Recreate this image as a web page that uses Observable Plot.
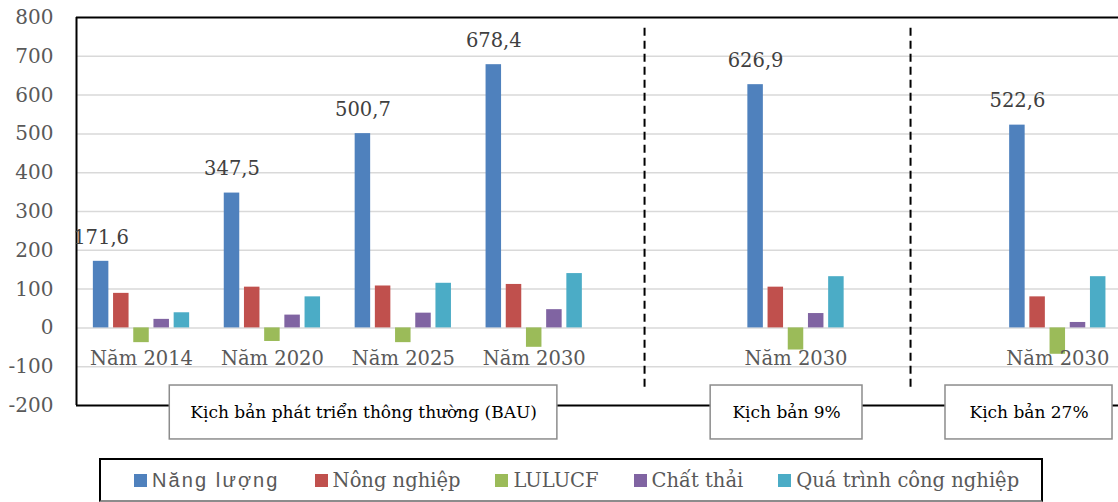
<!DOCTYPE html>
<html>
<head>
<meta charset="utf-8">
<script src="https://cdn.jsdelivr.net/npm/d3@7"></script>
<script src="https://cdn.jsdelivr.net/npm/@observablehq/plot@0.6"></script>
<style>
  body { margin: 0; background: #fff; }
  #chart svg { display: block; }
  .legend {
    box-sizing: border-box;
    margin: 8px 0 0 99px;
    width: 944px;
    height: 44px;
    border: 2px solid #000;
    border-bottom-color: #8c8c8c;
    display: flex;
    align-items: center;
    padding-left: 33px;
    gap: 35px;
    font-family: "DejaVu Serif", serif;
    font-size: 19.5px;
    color: #595959;
  }
  .legend .item { display: flex; align-items: center; white-space: nowrap; }
  .legend .sw { width: 13px; height: 13px; margin-right: 5px; }
  .legend .sans { font-family: "Liberation Sans", Arial, sans-serif; font-size: 20px; letter-spacing: 2.1px; }
</style>
</head>
<body>
<div id="chart"></div>
<script>
// Emissions by sector (MtCO2e) per year and scenario
const groups = ["Năm 2014", "Năm 2020", "Năm 2025", "Năm 2030", "Năm 2030", "Năm 2030"];
const series = ["Năng lượng", "Nông nghiệp", "LULUCF", "Chất thải", "Quá trình công nghiệp"];
const nangLuong = [171.6, 347.5, 500.7, 678.4, 626.9, 522.6];
const nongNghiep = [89, 105, 108, 112, 105, 80];
const lulucf = [-38, -35, -38, -50, -57, -68];
const chatThai = [22, 33, 38, 47, 37, 14];
const quaTrinhCongNghiep = [39, 80, 115, 140, 132, 132];
const yTicks = [800, 700, 600, 500, 400, 300, 200, 100, 0, -100, -200];
const scenarioLabels = ["Kịch bản phát triển thông thường (BAU)", "Kịch bản 9%", "Kịch bản 27%"];
const colors = ["#4F81BD", "#C0504D", "#9BBB59", "#8064A2", "#4BACC6"];

// Layout along the category axis: one slot per category, slots 4 and 6 left empty
const groupSlot = [0, 1, 2, 3, 5, 7];
const barStep = 0.1543;
const barWidth = 0.1184;
const dividerSlot = [3.843, 5.875];
const scenarioBox = [[0.216, 3.177], [4.348, 5.508], [6.142, 7.418]];
const xDomain = [-0.4966, 7.4637];

const seriesValues = [nangLuong, nongNghiep, lulucf, chatThai, quaTrinhCongNghiep];
const rows = groups.flatMap((g, gi) =>
  seriesValues.map((vals, si) => ({gi, si, series: series[si], value: vals[gi]}))
);
const barX = (d) => groupSlot[d.gi] + (d.si - 2) * barStep;
const fmt = (v) => d3.format(".1f")(v).replace(".", ",");

const boxes = scenarioLabels.map((label, i) => ({label, x1: scenarioBox[i][0], x2: scenarioBox[i][1]}));

const chart = Plot.plot({
  width: 1118,
  height: 450,
  marginTop: 17,
  marginBottom: 45,
  marginLeft: 76,
  marginRight: 0,
  style: {fontFamily: "DejaVu Serif, serif", background: "#fff"},
  x: {type: "linear", domain: xDomain, axis: null},
  y: {domain: [-200, 800], axis: null},
  color: {domain: series, range: colors},
  marks: [
    // horizontal gridlines
    Plot.ruleY(yTicks.filter((t) => t > -200 && t < 800), {stroke: "#d9d9d9", strokeWidth: 1.5}),
    // plot frame: top, bottom, left
    Plot.ruleY([800, -200], {stroke: "#000", strokeWidth: 2}),
    Plot.ruleX([xDomain[0]], {y1: -200, y2: 800, stroke: "#000", strokeWidth: 2}),
    // scenario dividers
    Plot.ruleX(dividerSlot, {y1: 772, y2: -153, stroke: "#000", strokeWidth: 2, strokeDasharray: "8,5"}),
    // bars
    Plot.rect(rows, {
      x1: (d) => barX(d) - barWidth / 2,
      x2: (d) => barX(d) + barWidth / 2,
      y1: 0,
      y2: "value",
      fill: "series"
    }),
    // energy values above the blue bars
    Plot.text(groups, {
      x: (d, i) => groupSlot[i] - 2 * barStep,
      y: (d, i) => nangLuong[i],
      text: (d, i) => fmt(nangLuong[i]),
      dy: -24,
      fontSize: 19.5,
      fill: "#404040"
    }),
    // category labels under the zero line
    Plot.text(groups, {
      x: (d, i) => groupSlot[i],
      y: 0,
      text: (d) => d,
      dy: 31,
      fontSize: 19.5,
      fill: "#595959"
    }),
    // y tick labels
    Plot.text(yTicks, {
      x: xDomain[0],
      y: (d) => d,
      text: (d) => String(d),
      textAnchor: "end",
      dx: -23,
      fontSize: 20,
      fill: "#595959"
    }),
    // scenario boxes
    Plot.rect(boxes, {x1: "x1", x2: "x2", y1: -148.5, y2: -287.5, fill: "#fff", stroke: "#8c8c8c", strokeWidth: 1.5}),
    Plot.text(boxes, {
      x: (d) => (d.x1 + d.x2) / 2,
      y: -218,
      text: "label",
      fontSize: 17,
      fill: "#000"
    })
  ]
});

const container = document.getElementById("chart");
container.appendChild(chart);

// legend
const legend = document.createElement("div");
legend.className = "legend";
series.forEach((name, i) => {
  const item = document.createElement("div");
  item.className = "item";
  const sw = document.createElement("span");
  sw.className = "sw";
  sw.style.background = colors[i];
  const label = document.createElement("span");
  label.textContent = name;
  if (i === 0) label.className = "sans";
  item.appendChild(sw);
  item.appendChild(label);
  legend.appendChild(item);
});
container.appendChild(legend);
</script>
</body>
</html>
